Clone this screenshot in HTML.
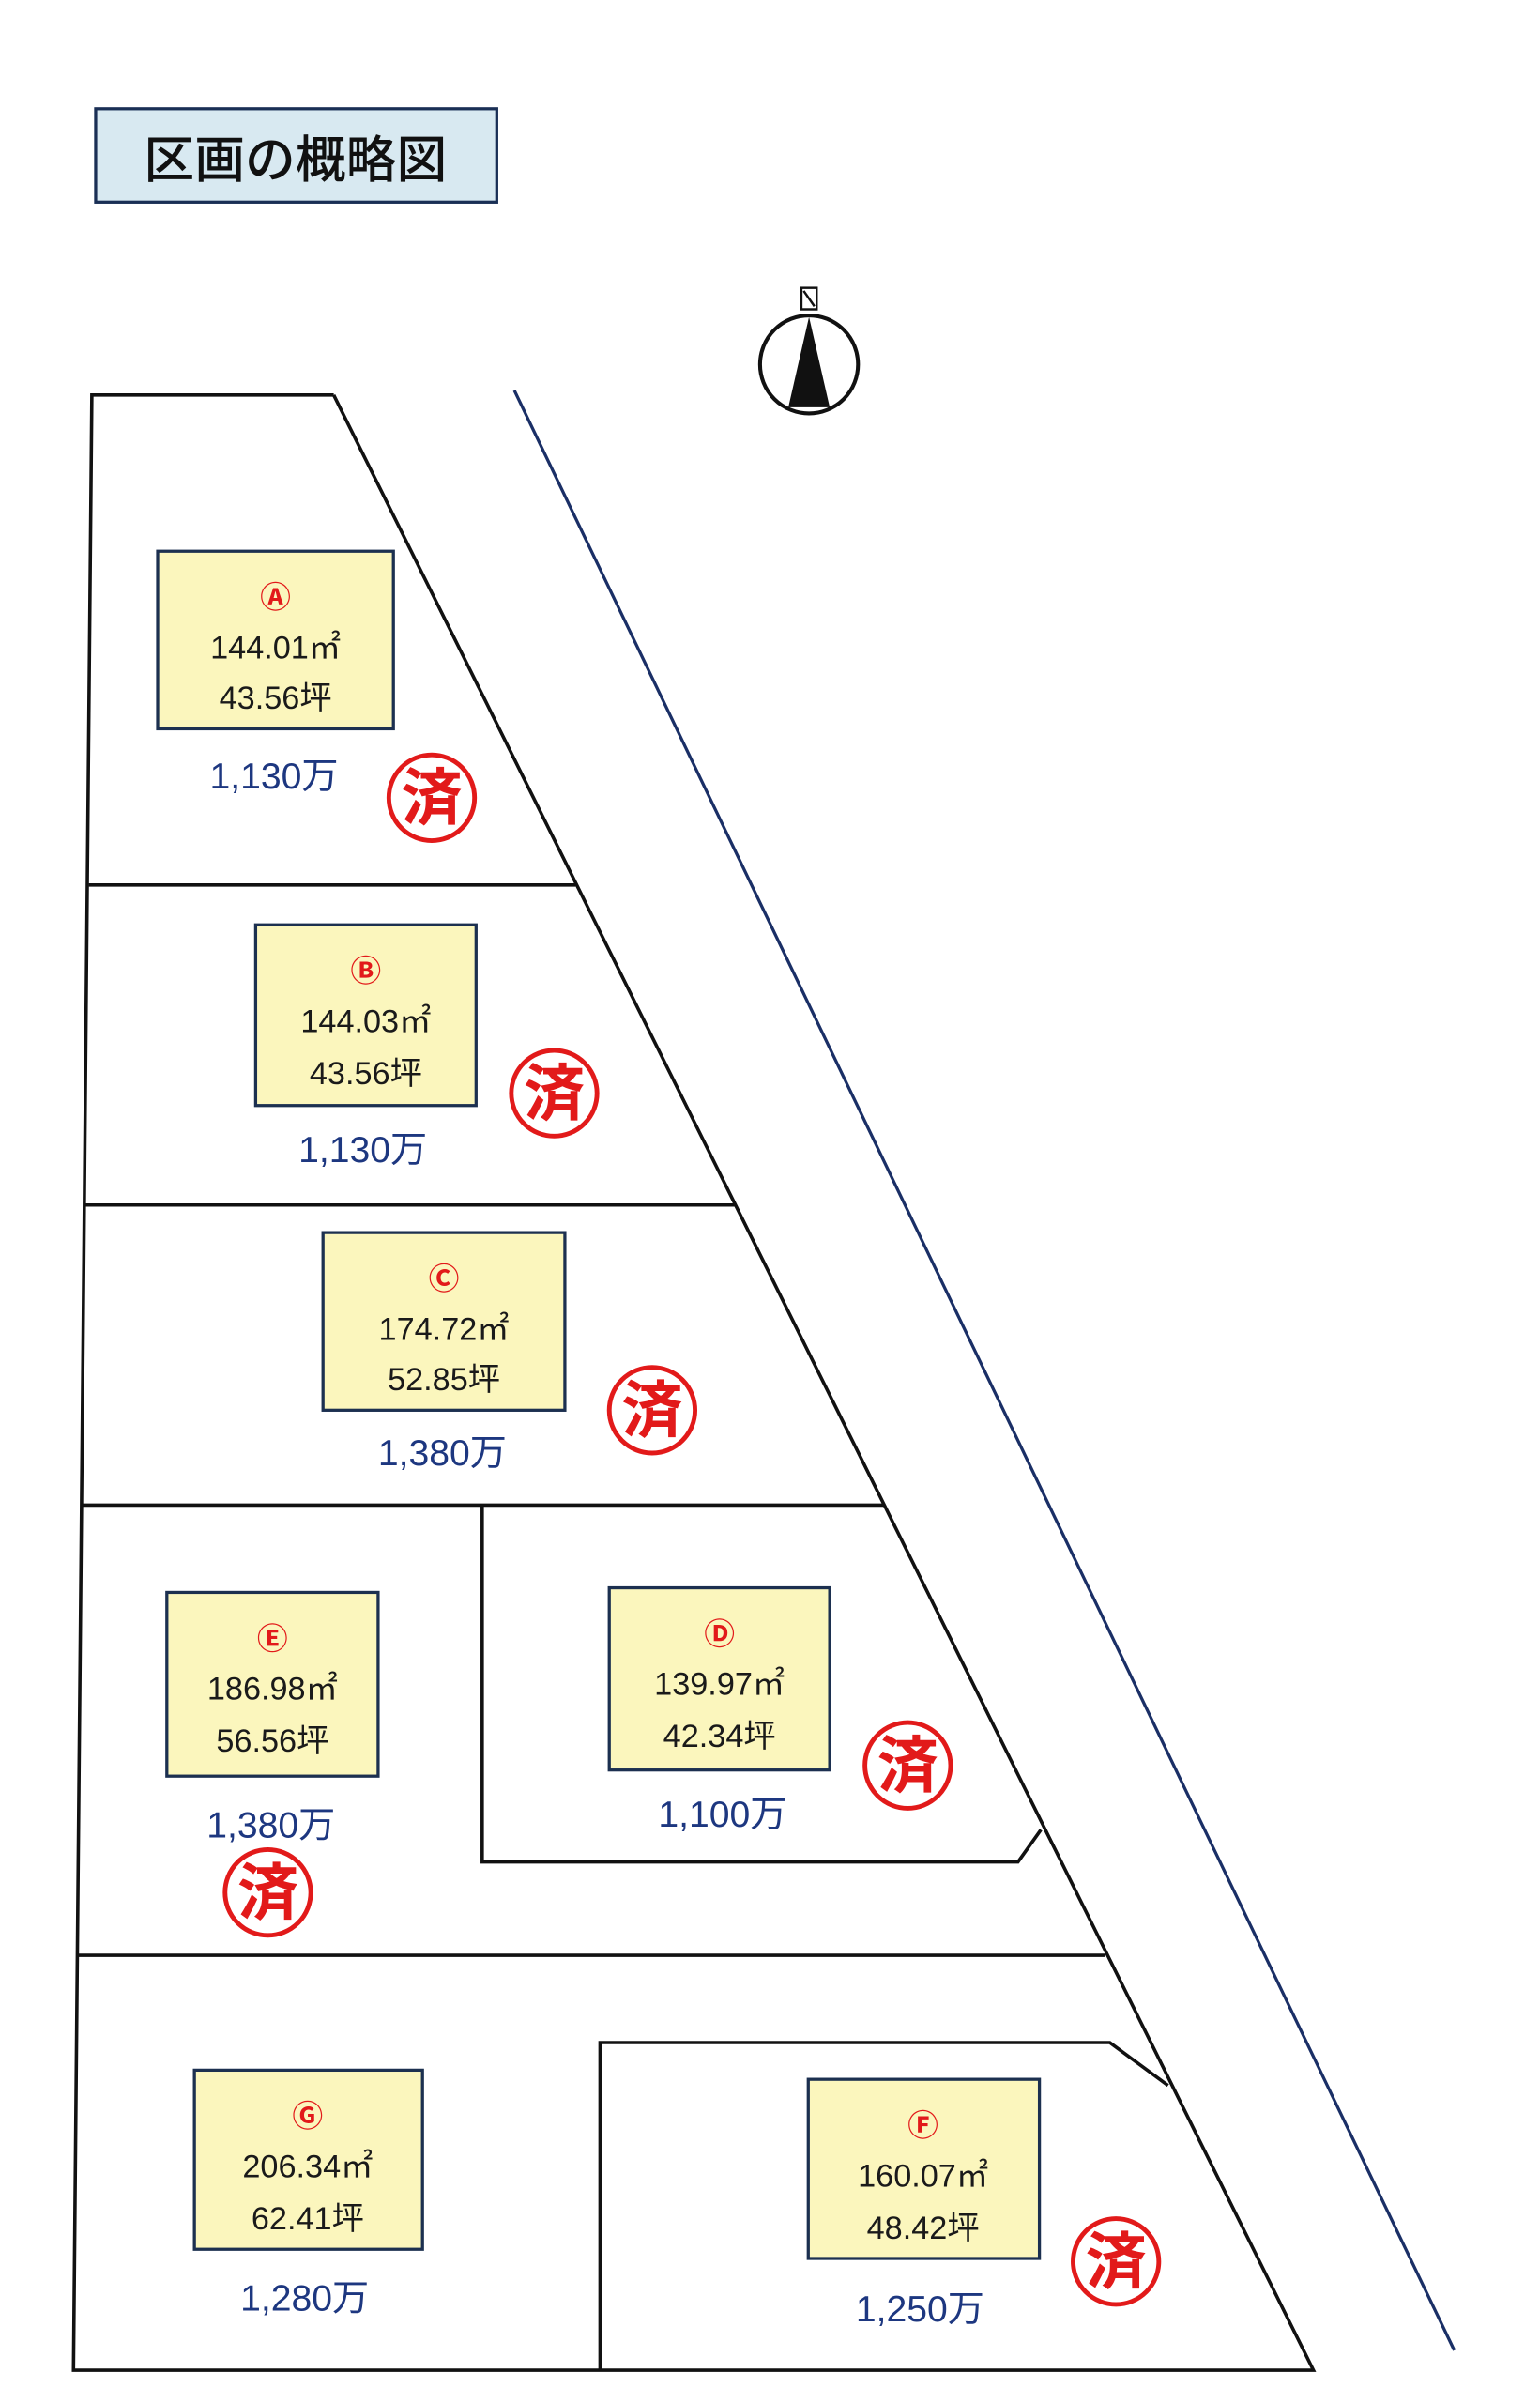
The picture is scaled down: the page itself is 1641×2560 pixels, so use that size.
<!DOCTYPE html>
<html><head><meta charset="utf-8"><style>
html,body{margin:0;padding:0;background:#fff}
svg{display:block}
text{font-family:"Liberation Sans","Noto Sans CJK JP",sans-serif}
</style></head><body>
<svg width="1641" height="2560" viewBox="0 0 1006 1569.4" preserveAspectRatio="none" xmlns="http://www.w3.org/2000/svg">
<rect x="0" y="0" width="1006" height="1570" fill="#fff"/>
<rect x="62.5" y="71" width="262" height="61" fill="#d8e9f1" stroke="#1a2f55" stroke-width="2"/>
<text x="193" y="116" font-size="33" text-anchor="middle" fill="#111" font-family="Noto Sans CJK JP, sans-serif" font-weight="500">区画の概略図</text>
<circle cx="528.5" cy="238" r="32" fill="none" stroke="#111" stroke-width="2.5"/>
<polygon points="528.5,207 515,266 542,266" fill="#111"/>
<rect x="523.5" y="188" width="10" height="14" fill="#fff" stroke="#111" stroke-width="1.5"/>
<path d="M525 190 L532 200" stroke="#111" stroke-width="1.5"/>
<line x1="336" y1="255" x2="950" y2="1535" stroke="#1a2f66" stroke-width="2"/>
<g stroke="#111" stroke-width="2.2" fill="none">
<polyline points="218,258 60,258 48,1548 858,1548 218,258"/>
<line x1="58" y1="578" x2="376" y2="578"/>
<line x1="55" y1="787" x2="480" y2="787"/>
<line x1="53" y1="983" x2="577" y2="983"/>
<line x1="50" y1="1277" x2="722" y2="1277"/>
<polyline points="315,983 315,1216 665,1216 680,1195"/>
<polyline points="392,1548 392,1334 725,1334 763,1362"/>
</g>
<g fill="#fbf6bd" stroke="#1c3050" stroke-width="2">
<rect x="103" y="360" width="154" height="116"/>
<rect x="167" y="604" width="144" height="118"/>
<rect x="211" y="805" width="158" height="116"/>
<rect x="109" y="1040" width="138" height="120"/>
<rect x="398" y="1037" width="144" height="119"/>
<rect x="127" y="1352" width="149" height="117"/>
<rect x="528" y="1358" width="151" height="117"/>
</g>
<g font-size="20" fill="#e21a1a" text-anchor="middle" font-weight="bold">
<text x="180" y="397">Ⓐ</text>
<text x="239" y="641">Ⓑ</text>
<text x="290" y="842">Ⓒ</text>
<text x="178" y="1077">Ⓔ</text>
<text x="470" y="1074">Ⓓ</text>
<text x="201" y="1389">Ⓖ</text>
<text x="603" y="1395">Ⓕ</text>
</g>
<g font-size="21" fill="#1a1a1a" text-anchor="middle" font-family="Liberation Sans Narrow, Liberation Sans, Noto Sans CJK JP, sans-serif">
<text x="180" y="430">144.01㎡</text><text x="180" y="463">43.56坪</text>
<text x="239" y="674">144.03㎡</text><text x="239" y="708">43.56坪</text>
<text x="290" y="875">174.72㎡</text><text x="290" y="908">52.85坪</text>
<text x="178" y="1110">186.98㎡</text><text x="178" y="1144">56.56坪</text>
<text x="470" y="1107">139.97㎡</text><text x="470" y="1141">42.34坪</text>
<text x="201" y="1422">206.34㎡</text><text x="201" y="1456">62.41坪</text>
<text x="603" y="1428">160.07㎡</text><text x="603" y="1462">48.42坪</text>
</g>
<g font-size="24" fill="#1d3780" text-anchor="middle">
<text x="179" y="515">1,130万</text>
<text x="237" y="759">1,130万</text>
<text x="289" y="957">1,380万</text>
<text x="177" y="1200">1,380万</text>
<text x="472" y="1193">1,100万</text>
<text x="199" y="1509">1,280万</text>
<text x="601" y="1516">1,250万</text>
</g>
<g fill="none" stroke="#e21a1a" stroke-width="3">
<circle cx="282" cy="521" r="28"/>
<circle cx="362" cy="714" r="28"/>
<circle cx="426" cy="921" r="28"/>
<circle cx="593" cy="1153" r="28"/>
<circle cx="175" cy="1236" r="28"/>
<circle cx="729" cy="1477" r="28"/>
</g>
<g font-size="40" fill="#e21a1a" text-anchor="middle" font-family="Noto Sans CJK JP, sans-serif" font-weight="bold">
<text x="282" y="535">済</text>
<text x="362" y="728">済</text>
<text x="426" y="935">済</text>
<text x="593" y="1167">済</text>
<text x="175" y="1250">済</text>
<text x="729" y="1491">済</text>
</g>
</svg>
</body></html>
